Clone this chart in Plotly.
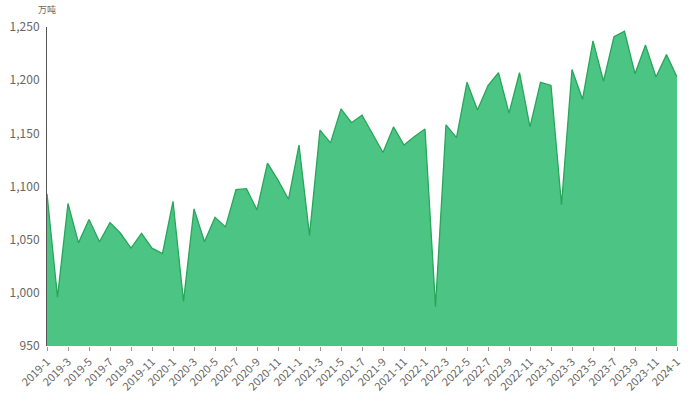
import plotly.graph_objects as go

months = [f"{y}-{m}" for y in range(2019, 2024) for m in range(1, 13)] + ["2024-1"]

values = [1093, 996, 1084, 1047, 1069, 1048, 1066, 1056, 1042, 1056, 1042, 1037,
          1086, 992, 1079, 1048, 1071, 1062, 1097, 1098, 1078, 1122, 1106, 1088,
          1139, 1054, 1153, 1141, 1173, 1160, 1167, 1149, 1132, 1156, 1139, 1147,
          1154, 987, 1158, 1146, 1198, 1172, 1195, 1207, 1169, 1207, 1156, 1198,
          1195, 1083, 1210, 1182, 1237, 1199, 1241, 1246, 1206, 1233, 1203, 1224,
          1203]

tick_labels = months[::2]
y_ticks = [950, 1000, 1050, 1100, 1150, 1200, 1250]
unit_label = "万吨"

fig = go.Figure()
fig.add_trace(go.Scatter(
    x=months, y=values, mode="lines", fill="tozeroy",
    line=dict(color="#27a65a", width=1.3),
    fillcolor="#4cc584",
))

fig.update_layout(
    width=690, height=405,
    margin=dict(l=47, r=13, t=27, b=59),
    paper_bgcolor="white", plot_bgcolor="white",
    showlegend=False,
    font=dict(family="Noto Sans CJK SC, Noto Sans, sans-serif", color="#666"),
    xaxis=dict(
        type="category", range=[0, 60], automargin=False,
        tickmode="array", tickvals=tick_labels, ticktext=tick_labels,
        tickangle=-45, tickfont=dict(size=11, color="#666"),
        ticks="outside", ticklen=4, tickcolor="#999",
        showgrid=False, showline=False, zeroline=False,
    ),
    yaxis=dict(
        range=[950, 1250], tickvals=y_ticks, tickformat=",d", automargin=False,
        tickfont=dict(size=12, color="#666"),
        showgrid=False, zeroline=False,
        showline=True, linecolor="#555", linewidth=1,
        ticks="", ticklabelstandoff=4,
    ),
    annotations=[dict(
        text=unit_label, xref="paper", yref="paper", x=0, y=1,
        xanchor="center", yanchor="bottom", yshift=9, xshift=0,
        showarrow=False, font=dict(size=9, color="#666"),
    )],
)

fig.write_html("out.html", config={"displayModeBar": False},
               post_script="document.body.style.margin='0';document.body.style.overflow='hidden';")
